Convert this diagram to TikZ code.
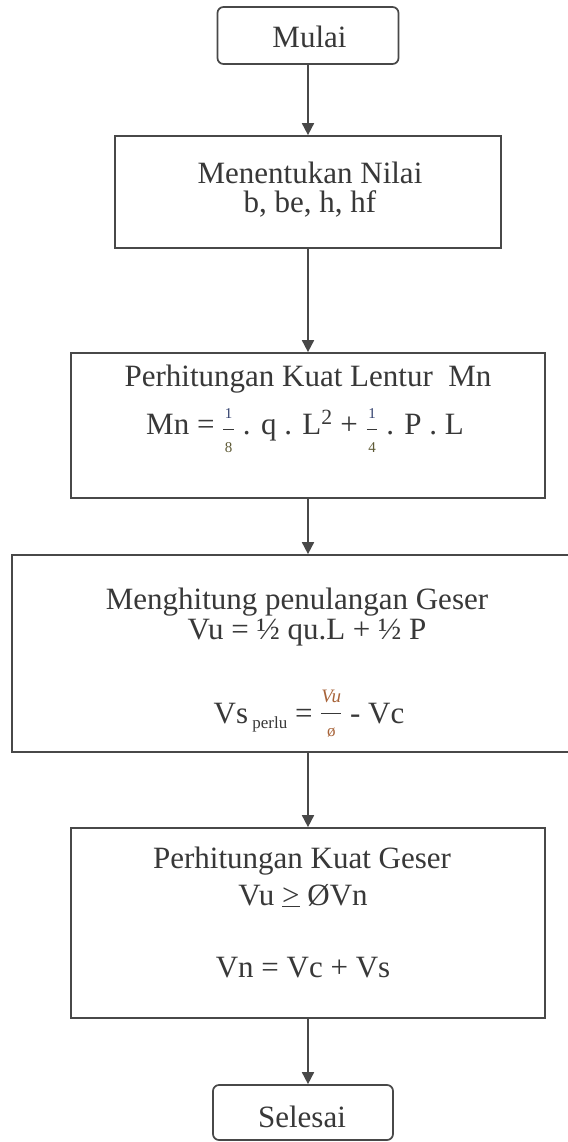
\documentclass[tikz,border=0pt]{standalone}
\usepackage{fontspec}
\setmainfont{Liberation Serif}
\usetikzlibrary{arrows.meta}
\definecolor{ink}{HTML}{383838}
\definecolor{edge}{HTML}{484848}
\definecolor{numc}{HTML}{33416E}
\definecolor{denc}{HTML}{5E5A36}
\definecolor{vuc}{HTML}{A8643A}
\newcommand{\fsmall}{\fontsize{15}{15}\selectfont}
\newcommand{\fracsmall}[2]{\raisebox{-1pt}{$\displaystyle{\hbox{\fsmall\color{numc}\kern1.5pt#1\kern1.5pt}\over\hbox{\fsmall\color{denc}#2}}$}}
\newcommand{\fracvu}{\raisebox{4pt}{$\displaystyle{\hbox{\fontsize{19}{19}\selectfont\itshape\color{vuc}Vu}\over\hbox{\fontsize{17}{17}\selectfont\color{vuc}ø}}$}}
\begin{document}
\begin{tikzpicture}[x=1pt,y=-1pt,
  box/.style={draw=edge, line width=1.7pt, inner sep=0pt},
  term/.style={box, rounded corners=6pt},
  arr/.style={draw=edge, line width=1.7pt, -{Triangle[length=12pt,width=12pt]}},
  lbl/.style={anchor=base, inner sep=0pt, text=ink, font=\fontsize{31}{36}\selectfont}]
\useasboundingbox[fill=white] (0,0) rectangle (567,1142);
% boxes
\node[term, minimum width=181pt, minimum height=57pt] (start) at (308,35.5) {};
\node[box, minimum width=386pt, minimum height=112pt] (b2) at (308,192) {};
\node[box, minimum width=474pt, minimum height=145pt] (b3) at (308,425.5) {};
\node[box, minimum width=592pt, minimum height=197pt] (b4) at (308,653.5) {};
\node[box, minimum width=474pt, minimum height=190pt] (b5) at (308,923) {};
\node[term, minimum width=180pt, minimum height=55pt] (fin) at (303,1112.5) {};
% labels
\node[lbl] (tstart) at (309.5,48) {Mulai};
\node[lbl] (t2a) at (310,183) {Menentukan Nilai};
\node[lbl] (t2b) at (310,212) {b, be, h, hf};
\node[lbl] (t3a) at (308,386) {Perhitungan Kuat Lentur\ \ Mn};
\node[lbl] (t3b) at (305,434) {Mn = \fracsmall{1}{8} . q . L\textsuperscript{2} + \fracsmall{1}{4} . P . L};
\node[lbl] (t4a) at (297,609) {Menghitung penulangan Geser};
\node[lbl] (t4b) at (307,639) {Vu = ½ qu.L + ½ P};
\node[lbl] (t4c) at (309,723) {Vs\raisebox{-5pt}{\fontsize{17}{17}\selectfont\ perlu} = \fracvu{} - Vc};
\node[lbl] (t5a) at (302,868) {Perhitungan Kuat Geser};
\node[lbl] (t5b) at (303,905) {Vu \underline{>} ØVn};
\node[lbl] (t5c) at (303,977) {Vn = Vc + Vs};
\node[lbl] (tfin) at (302,1127) {Selesai};
% connectors
\draw[arr] (start.south) -- (b2.north);
\draw[arr] (b2.south) -- (b3.north);
\draw[arr] (b3.south) -- (b4.north);
\draw[arr] (b4.south) -- (b5.north);
\draw[arr] (b5.south) -- (b5.south |- fin.north);
\end{tikzpicture}
\end{document}
